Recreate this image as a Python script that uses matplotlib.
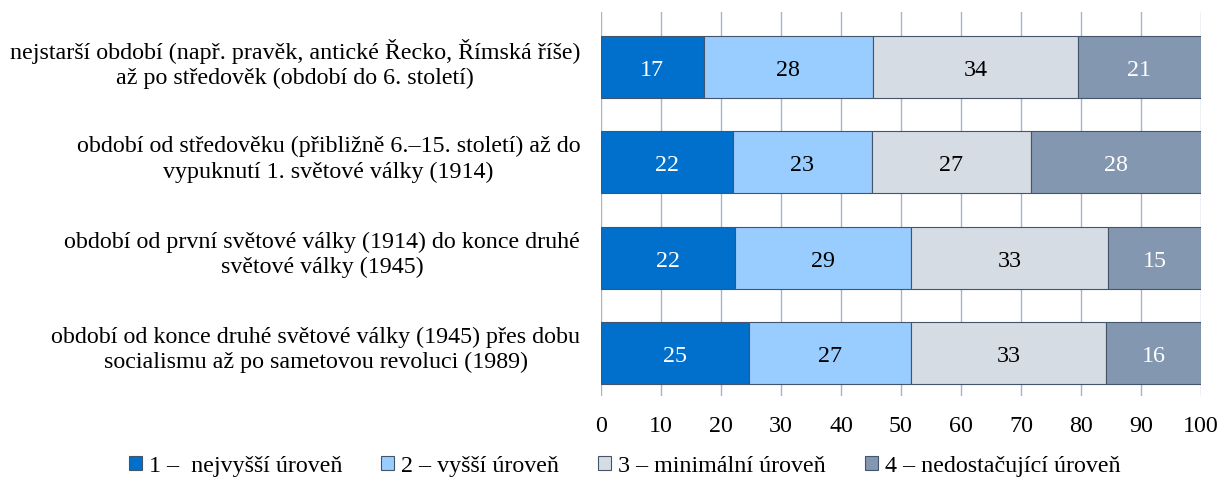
import matplotlib
matplotlib.use("Agg")
import matplotlib.pyplot as plt
import matplotlib.transforms as mtransforms
import numpy as np

plt.rcParams["font.family"] = ["Liberation Serif", "DejaVu Serif"]

CATEGORIES = [
    "nejstarší období (např. pravěk, antické Řecko, Římská říše)\naž po středověk (období do 6. století)",
    "období od středověku (přibližně 6.–15. století) až do\nvypuknutí 1. světové války (1914)",
    "období od první světové války (1914) do konce druhé\nsvětové války (1945)",
    "období od konce druhé světové války (1945) přes dobu\nsocialismu až po sametovou revoluci (1989)",
]
SERIES = ["1 –  nejvyšší úroveň", "2 – vyšší úroveň",
          "3 – minimální úroveň", "4 – nedostačující úroveň"]
# bar widths (percent); labels are the rounded values
VALUES = [
    [17.1, 22.0, 22.4, 24.7],
    [28.2, 23.1, 29.2, 26.9],
    [34.2, 26.6, 32.9, 32.6],
    [20.5, 28.3, 15.5, 15.8],
]
LABELS = [
    [17, 22, 22, 25],
    [28, 23, 29, 27],
    [34, 27, 33, 33],
    [21, 28, 15, 16],
]

COLORS = ["#0070CC", "#99CCFF", "#D6DCE4", "#8497B0"]
TEXT_COLORS = ["white", "black", "black", "white"]
FS = 17.3

fig = plt.figure(figsize=(12.2, 4.89), dpi=100)
ax = fig.add_axes([601 / 1220, 1 - 397 / 489, 600 / 1220, 384 / 489])

y = np.arange(len(CATEGORIES))
left = np.zeros(len(CATEGORIES))
for vals, labs, name, col, tcol in zip(VALUES, LABELS, SERIES, COLORS, TEXT_COLORS):
    vals = np.array(vals)
    ax.barh(y, vals, left=left, height=0.65, color=col, edgecolor="#44546A",
            linewidth=0.8, label=name, zorder=3)
    for yi, l, v, lab in zip(y, left, vals, labs):
        ax.text(l + v / 2, yi, str(lab), ha="center", va="center_baseline",
                color=tcol, fontsize=FS, zorder=4)
    left += vals

ax.set_xlim(0, 100)
ax.set_ylim(3.45, -0.577)
ax.set_xticks(np.arange(0, 101, 10))
ax.set_yticks(y)
ax.set_yticklabels(CATEGORIES, multialignment="center", linespacing=1.27,
                   va="center")
ax.tick_params(axis="y", length=0, pad=15, labelsize=FS)
ax.tick_params(axis="x", length=0, pad=14, labelsize=FS)
ax.grid(axis="x", color="#A6B4C8", linewidth=1.0, zorder=0)
for s in ax.spines.values():
    s.set_visible(False)

# category labels sit a little above the bar centre in the original
shift = mtransforms.ScaledTranslation(0, 4 / 100, fig.dpi_scale_trans)
for lbl in ax.yaxis.get_majorticklabels():
    lbl.set_transform(lbl.get_transform() + shift)

fig.legend(loc="center", bbox_to_anchor=(0.512, 1 - 467 / 489), ncol=4,
           frameon=False, fontsize=FS, handlelength=0.55, handleheight=0.55,
           handletextpad=0.3, columnspacing=1.6)

fig.savefig("out.png", dpi=100)
